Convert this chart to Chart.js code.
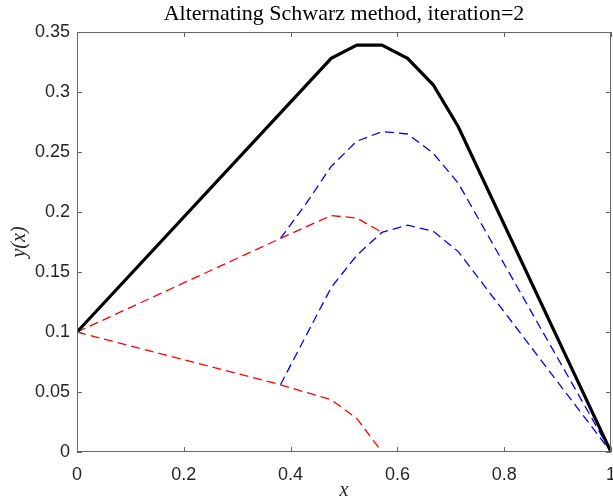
<!DOCTYPE html>
<html>
<head>
<meta charset="utf-8">
<title>Alternating Schwarz method</title>
<script src="https://cdn.jsdelivr.net/npm/chart.js@4.4.1/dist/chart.umd.min.js"></script>
<style>
    html, body { margin: 0; padding: 0; background: #fff; }
    #wrap { width: 613px; height: 500px; }
</style>
</head>
<body>
<div id="wrap"><canvas id="schwarzChart" width="613" height="500"></canvas></div>
<script>
// ============================================
// DATOS
// ============================================

// solucion exacta
const exactX = [0, 0.476, 0.524, 0.571, 0.619, 0.667, 0.714, 1];
const exactY = [0.1, 0.328, 0.339, 0.339, 0.328, 0.306, 0.271, 0];

// subdominio izquierdo (rojo)
const leftX = [0, 0.381, 0.476, 0.524, 0.571];
const leftIter2 = [0.1, 0.178, 0.197, 0.195, 0.183];
const leftIter1 = [0.1, 0.056, 0.0435, 0.028, 0];

// subdominio derecho (azul)
const rightX = [0.381, 0.429, 0.476, 0.524, 0.571, 0.619, 0.667, 0.714, 1];
const rightIter2 = [0.178, 0.207, 0.238, 0.259, 0.267, 0.265, 0.249, 0.224, 0];
const rightIter1 = [0.056, 0.097, 0.137, 0.164, 0.183, 0.189, 0.184, 0.167, 0];

const xTicks = [0, 0.2, 0.4, 0.6, 0.8, 1];
const xTickLabels = ['0', '0.2', '0.4', '0.6', '0.8', '1'];
const yTicks = [0, 0.05, 0.1, 0.15, 0.2, 0.25, 0.3, 0.35];
const yTickLabels = ['0', '0.05', '0.1', '0.15', '0.2', '0.25', '0.3', '0.35'];

const chartTitle = 'Alternating Schwarz method, iteration=2';

// ============================================

const toPoints = (xs, ys) => xs.map((x, i) => ({ x: x, y: ys[i] }));

const AXIS_COLOR = '#666666';
const TEXT_COLOR = '#262626';
const SANS = '"Liberation Sans", Helvetica, Arial, sans-serif';
const SERIF = '"Liberation Serif", "Times New Roman", serif';

// caja estilo matlab con marcas hacia adentro
const matlabBox = {
    id: 'matlabBox',
    afterDatasetsDraw(chart) {
        const { ctx, chartArea: a, scales } = chart;
        const x = scales.x;
        const y = scales.y;
        const len = 5;
        ctx.save();
        ctx.strokeStyle = AXIS_COLOR;
        ctx.lineWidth = 1;
        ctx.beginPath();
        xTicks.forEach(v => {
            const px = Math.round(x.getPixelForValue(v)) + 0.5;
            ctx.moveTo(px, a.bottom);
            ctx.lineTo(px, a.bottom - len);
            ctx.moveTo(px, a.top);
            ctx.lineTo(px, a.top + len);
        });
        yTicks.forEach(v => {
            const py = Math.round(y.getPixelForValue(v)) + 0.5;
            ctx.moveTo(a.left, py);
            ctx.lineTo(a.left + len, py);
            ctx.moveTo(a.right, py);
            ctx.lineTo(a.right - len, py);
        });
        ctx.stroke();
        ctx.strokeRect(Math.round(a.left) + 0.5, Math.round(a.top) + 0.5,
            Math.round(a.width) - 1, Math.round(a.height) - 1);
        ctx.restore();
    }
};

const dashed = (color, xs, ys) => ({
    data: toPoints(xs, ys),
    borderColor: color,
    borderWidth: 1.3,
    borderDash: [9, 5],
    showLine: true,
    pointRadius: 0,
    fill: false,
    tension: 0
});

// sin relleno automatico a los lados del eje
const fixHeight = h => s => {
    s.height = h;
    s.paddingLeft = 0;
    s.paddingRight = 0;
};

new Chart(document.getElementById('schwarzChart').getContext('2d'), {
    type: 'scatter',
    data: {
        datasets: [
            {
                data: toPoints(exactX, exactY),
                borderColor: '#000000',
                borderWidth: 3.2,
                showLine: true,
                pointRadius: 0,
                fill: false,
                tension: 0
            },
            dashed('#ff0000', leftX, leftIter2),
            dashed('#ff0000', leftX, leftIter1),
            dashed('#0000ff', rightX, rightIter2),
            dashed('#0000ff', rightX, rightIter1)
        ]
    },
    options: {
        responsive: false,
        animation: false,
        layout: { autoPadding: false, padding: { left: 0, right: 2, top: 0, bottom: 0 } },
        plugins: {
            legend: { display: false },
            tooltip: { enabled: false }
        },
        scales: {
            x: {
                type: 'linear',
                position: 'bottom',
                min: 0,
                max: 1,
                afterBuildTicks: s => { s.ticks = xTicks.map(v => ({ value: v })); },
                afterFit: fixHeight(48),
                grid: { display: false, drawTicks: false },
                border: { display: false },
                ticks: {
                    padding: 12,
                    color: TEXT_COLOR,
                    font: { family: SANS, size: 18 },
                    maxRotation: 0,
                    callback: (v, i) => xTickLabels[i]
                },
                title: {
                    display: true,
                    text: 'x',
                    color: TEXT_COLOR,
                    font: { family: SERIF, size: 20, style: 'italic' },
                    padding: { top: 0, bottom: -3 }
                }
            },
            xTop: {
                type: 'linear',
                position: 'top',
                min: 0,
                max: 1,
                afterFit: fixHeight(32),
                grid: { display: false, drawTicks: false },
                border: { display: false },
                ticks: { display: false },
                title: {
                    display: true,
                    text: chartTitle,
                    color: '#000000',
                    font: { family: SERIF, size: 22 },
                    padding: { top: 1, bottom: 0 }
                }
            },
            y: {
                type: 'linear',
                position: 'left',
                min: 0,
                max: 0.35,
                afterBuildTicks: s => { s.ticks = yTicks.map(v => ({ value: v })); },
                afterFit: s => {
                    s.width = 77;
                    s.paddingTop = 0;
                    s.paddingBottom = 0;
                },
                grid: { display: false, drawTicks: false },
                border: { display: false },
                ticks: {
                    padding: 7,
                    color: TEXT_COLOR,
                    font: { family: SANS, size: 18 },
                    callback: (v, i) => yTickLabels[i]
                },
                title: {
                    display: true,
                    text: 'y(x)',
                    color: TEXT_COLOR,
                    font: { family: SERIF, size: 20, style: 'italic' },
                    padding: { top: 8, bottom: 0 }
                }
            }
        }
    },
    plugins: [matlabBox]
});
</script>
</body>
</html>
